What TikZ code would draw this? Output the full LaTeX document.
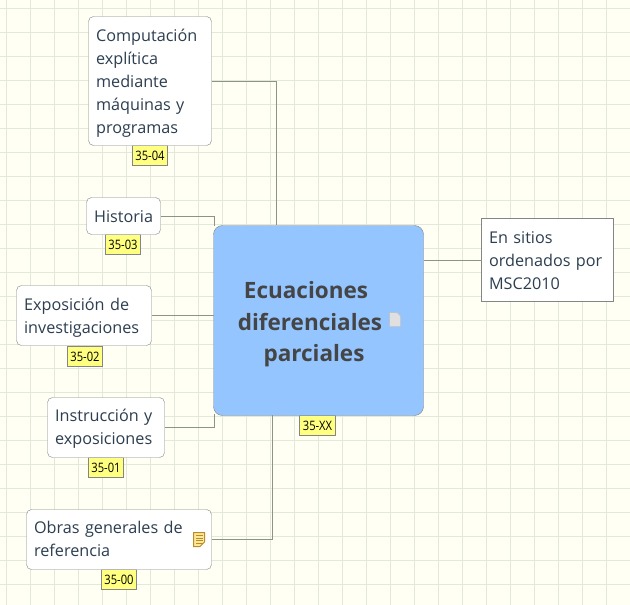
\documentclass[tikz,border=0pt]{standalone}
\usepackage{fontspec}
\setmainfont{Open Sans}
\newfontfamily\tagfont[FakeStretch=0.86]{Open Sans}
\usetikzlibrary{calc,positioning}
\definecolor{paper}{HTML}{FFFFF4}
\definecolor{gridline}{HTML}{E2E9DA}
\definecolor{boxline}{HTML}{858585}
\definecolor{wireline}{HTML}{8C9488}
\definecolor{leaftext}{HTML}{2C3E50}
\definecolor{maintext}{HTML}{454545}
\definecolor{mainfill}{HTML}{94C5FF}
\definecolor{tagfill}{HTML}{FFFF80}
\definecolor{notefill}{HTML}{FBE99A}
\definecolor{noteline}{HTML}{BC8A28}
\tikzset{
    leaf/.style={
	anchor=north west,
	rectangle,
	rounded corners=5pt,
	draw=boxline,
	fill=white,
	text=leaftext,
	align=left,
	outer sep=0pt,
	inner xsep=7.6pt,
	inner ysep=0pt,
	font=\fontsize{16.2}{23}\selectfont
    },
    tag/.style={
	anchor=north west,
	rectangle,
	draw=boxline,
	fill=tagfill,
	text=black,
	outer sep=0pt,
	inner sep=0pt,
	minimum width=35pt,
	minimum height=20pt,
	font=\tagfont\fontsize{13}{14}\selectfont
    },
    wire/.style={
	draw=wireline,
	line width=1pt
    },
}
\newcommand\leaflines[2]{\vbox{\vskip#1\relax\noindent #2}}
\begin{document}
\begin{tikzpicture}[x=1pt,y=-1pt]

    \useasboundingbox (0,0) rectangle (630,605);
    \fill[paper] (0,0) rectangle (630,605);
    \foreach \gx in {0,...,25}
	\draw[gridline,line width=1pt] (6.7+24*\gx,0) -- (6.7+24*\gx,605);
    \foreach \gy in {0,...,24}
	\draw[gridline,line width=1pt] (0,8.7+24*\gy) -- (630,8.7+24*\gy);

    % tags first, the boxes lie over their top edge
    \node[tag] (TAGCOMP) at (132.5,145.5) {35-04};
    \node[tag] (TAGHIST) at (105.5,234.5) {35-03};
    \node[tag] (TAGEXPO) at (67.5,346.5) {35-02};
    \node[tag] (TAGINST) at (88.5,457.5) {35-01};
    \node[tag] (TAGOBRA) at (101.5,569.5) {35-00};
    \node[tag,minimum width=36pt] (TAGMAIN) at (299.5,415.5) {35-XX};

    \node[leaf, text width=107.8pt, minimum height=129pt] (COMP) at (88.5,16.5) {%
	\leaflines{4pt}{Computación\\explítica\\mediante\\máquinas y\\programas}};
    \node[leaf, text width=58.8pt, minimum height=37pt] (HIST) at (86.5,197.5) {%
	\leaflines{2pt}{Historia}};
    \node[leaf, text width=119.8pt, minimum height=60pt] (EXPO) at (16.5,285.5) {%
	\leaflines{4pt}{Exposición de\\investigaciones}};
    \node[leaf, text width=101.8pt, minimum height=60pt] (INST) at (47.5,397.5) {%
	\leaflines{2pt}{Instrucción y\\exposiciones}};
    \node[leaf, text width=169.8pt, minimum height=60pt] (OBRA) at (26.5,509.5) {%
	\leaflines{-2pt}{Obras generales de\\referencia}};
    \node[leaf, rounded corners=0pt, text width=116.8pt, minimum height=83pt] (MSC) at (481.5,218.5) {%
	\leaflines{2pt}{En sitios\\ordenados por\\MSC2010}};

    \node[leaf, rounded corners=9pt, fill=mainfill, minimum width=210pt,
	minimum height=190pt, inner xsep=0pt] (MAIN) at (213.5,225.5) {};
    \node[text=maintext, align=center, inner sep=0pt,
	font=\fontsize{22.5}{31.5}\selectfont\bfseries] (TITLE) at (310,324.5) {%
	\hspace*{-8pt}Ecuaciones\\diferenciales\\\hspace*{8pt}parciales};

    % connectors
    \coordinate (TOPCOMP) at (276,225);
    \coordinate (TOPHIST) at (214,226);
    \coordinate (BOTINST) at (214,414);
    \coordinate (BOTOBRA) at (272,415);
    \draw[wire] (COMP.east |- 0,81) -| (TOPCOMP);
    \draw[wire] (HIST.east) -| (TOPHIST);
    \draw[wire] (EXPO.east) -- (MAIN.west |- EXPO.east);
    \draw[wire] (INST.east) -| (BOTINST);
    \draw[wire] (OBRA.east) -| (BOTOBRA);
    \draw[wire] (MAIN.east |- MSC.west) -- (MSC.west);

    % document icon of the main box
    \fill[black!12,draw=black!25,line width=.5pt]
	(389.5,312.5) -- (397,312.5) -- (400.5,316) -- (400.5,326.5) -- (389.5,326.5) -- cycle;
    % note icon of the last leaf
    \fill[notefill,draw=noteline,line width=1pt]
	(193.5,532.5) -- (204.5,532.5) -- (204.5,542) -- (200,546.5) -- (193.5,546.5) -- cycle;
    \foreach \ny in {535.5,538,540.5,543}
	\draw[noteline,line width=.7pt] (195.5,\ny) -- (202.5,\ny);
\end{tikzpicture}
\end{document}
